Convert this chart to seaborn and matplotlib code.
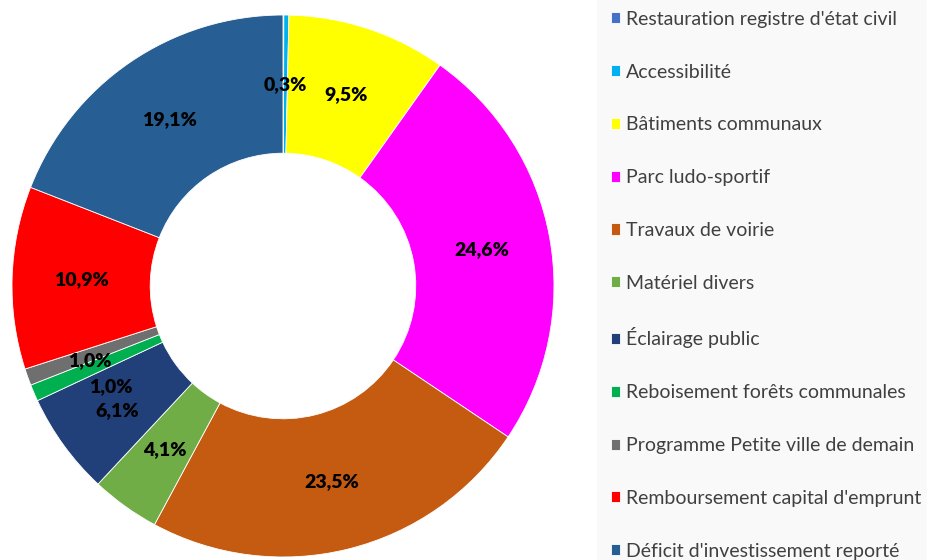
import numpy as np
import seaborn as sns
import matplotlib.pyplot as plt
from matplotlib.patches import Rectangle

categories = [
    "Restauration registre d'état civil",
    "Accessibilité",
    "Bâtiments communaux",
    "Parc ludo-sportif",
    "Travaux de voirie",
    "Matériel divers",
    "Éclairage public",
    "Reboisement forêts communales",
    "Programme Petite ville de demain",
    "Remboursement capital d'emprunt",
    "Déficit d'investissement reporté",
]
shares = [0.05, 0.3, 9.5, 24.6, 23.5, 4.1, 6.1, 1.0, 1.0, 10.9, 19.1]
labels = ["", "0,3%", "9,5%", "24,6%", "23,5%", "4,1%", "6,1%", "1,0%", "1,0%", "10,9%", "19,1%"]
colors = ["#4472C4", "#00B0F0", "#FFFF00", "#FF00FF", "#C55A11", "#70AD47",
          "#213F78", "#00B050", "#6F6F6F", "#FF0000", "#275E94"]
# small shifts for crowded labels (angle in deg, radius in axis units)
nudge_ang = [0, 0, 0, 0, 0, 0, 1, 7, 1.5, 0, 0]
nudge_rad = [0, 0, 0, 0, 0, 0, 0.02, -0.01, 0.02, 0, 0]

sns.set_theme(style="white")
plt.rcParams['font.family'] = ['Lato', 'DejaVu Sans']

fig = plt.figure(figsize=(9.28, 5.6), dpi=100)
fig.patch.set_facecolor("white")
fig.patches.append(Rectangle((597 / 928, 0), 1, 1, transform=fig.transFigure,
                             facecolor="#F9F9F9", edgecolor="none", zorder=0))

ax = fig.add_axes([12 / 928, 3 / 560, 542 / 928, 542 / 560])
ring = 0.51
wedges, _ = ax.pie(shares, colors=colors, startangle=90, counterclock=False,
                   radius=1.0, wedgeprops=dict(width=ring, edgecolor="white", linewidth=0.6))
ax.set_xlim(-1, 1)
ax.set_ylim(-1, 1)
ax.set_aspect("equal")
ax.axis("off")

r = 1 - ring / 2
for w, lab, da, dr in zip(wedges, labels, nudge_ang, nudge_rad):
    if not lab:
        continue
    ang = np.deg2rad((w.theta1 + w.theta2) / 2 + da)
    ax.text((r + dr) * np.cos(ang), (r + dr) * np.sin(ang), lab, ha="center", va="center",
            fontsize=14, fontweight="heavy", color="black")

leg = fig.legend(wedges, categories, loc="upper left", bbox_to_anchor=(603 / 928, 1.0 - 3 / 560),
                 frameon=False, fontsize=14, labelcolor="#404040",
                 handlelength=0.5, handleheight=0.5, handletextpad=0.3,
                 labelspacing=1.84, borderaxespad=0)

fig.savefig("out.png", dpi=100)
